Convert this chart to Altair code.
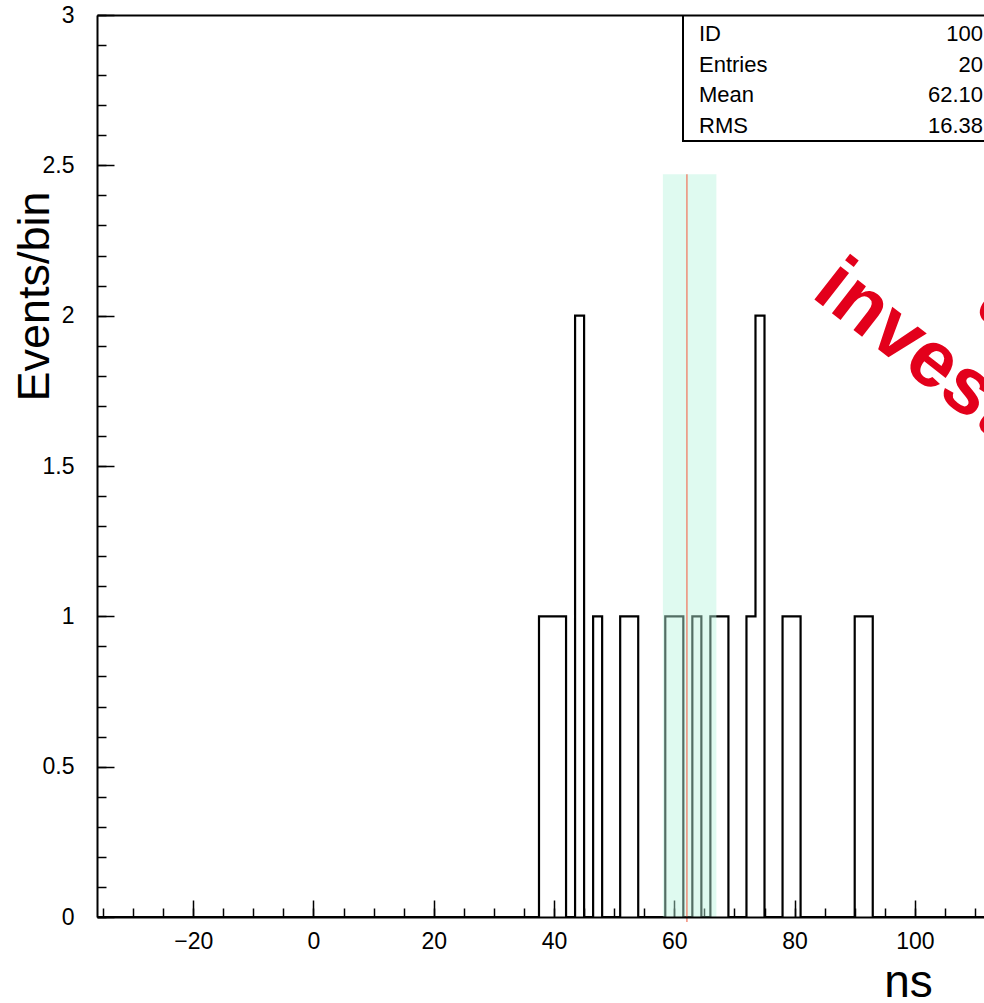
import altair as alt
import pandas as pd
import numpy as np

# ---- histogram ID 100 : fixed bins of 1.5 ns starting at -36 ns ----
hist_low = -36.0
bin_width = 1.5
n_bins = 100

# non-empty bins: lower edge (ns) and content (events)
filled_lo = [37.5, 39.0, 40.5, 43.5, 46.5, 51.0, 52.5, 58.5, 60.0, 63.0,
             66.0, 67.5, 72.0, 73.5, 78.0, 79.5, 90.0, 91.5]
filled_n = [1, 1, 1, 2, 1, 1, 1, 1, 1, 1, 1, 1, 1, 2, 1, 1, 1, 1]

# statistics box
stat_names = ["ID", "Entries", "Mean", "RMS"]
stat_values = ["100", "20", "62.10", "16.38"]

# mean marker and shaded window
mean_ns = [62.10]
band_lo = [58.1]
band_hi = [67.0]
band_top = [2.47]

# axes
x_domain = [-36, 111.5]
y_domain = [0, 3]
x_major = [-20, 0, 20, 40, 60, 80, 100]
x_minor = list(range(-35, 115, 5))
y_major = [0, 0.5, 1, 1.5, 2, 2.5, 3]
y_minor = [round(0.1 * i, 1) for i in range(31)]

watermark = ["under", "investigation"]

# ---- build tables ----
edges = hist_low + bin_width * np.arange(n_bins + 1)
counts = np.zeros(n_bins)
for lo, n in zip(filled_lo, filled_n):
    counts[int(round((lo - hist_low) / bin_width))] = n
step_df = pd.DataFrame({"x": edges, "y": np.append(counts, 0)})
band_df = pd.DataFrame({"lo": band_lo, "hi": band_hi, "top": band_top, "b": [0]})
mean_df = pd.DataFrame({"m": mean_ns, "top": band_top})
stats_df = pd.DataFrame({"name": stat_names, "val": stat_values,
                         "py": [26 + 30.5 * i for i in range(len(stat_names))]})
wm_df = pd.DataFrame({"t": watermark, "px": [874, 713], "py": [295, 281]})

W, H = 887, 902
FONT = "Liberation Sans, Arial, Helvetica, sans-serif"
xs = alt.Scale(domain=x_domain, nice=False, zero=False)
ys = alt.Scale(domain=y_domain, nice=False, zero=False)

# layer A: histogram outline, with labelled axes + domains
hist = alt.Chart(step_df).mark_line(
    interpolate="step-after", color="black", strokeWidth=2.2, clip=True
).encode(
    x=alt.X("x:Q", scale=xs, axis=alt.Axis(
        orient="bottom", values=x_major, ticks=False, grid=False,
        labelPadding=13, labelFont=FONT, labelFontSize=23, labelColor="black",
        domainColor="black", domainWidth=2, zindex=1,
        title="ns", titleFont=FONT, titleFontSize=46, titleFontWeight="normal",
        titleColor="black", titleX=811, titleY=79, titleAlign="center",
        titleBaseline="alphabetic")),
    y=alt.Y("y:Q", scale=ys, axis=alt.Axis(
        orient="left", values=y_major, format="~g", ticks=False, grid=False,
        labelPadding=23, labelFont=FONT, labelFontSize=23, labelColor="black",
        domainColor="black", domainWidth=2, zindex=1,
        title="Events/bin", titleFont=FONT, titleFontSize=45,
        titleFontWeight="normal", titleColor="black", titleX=-49, titleY=281,
        titleAlign="center", titleBaseline="alphabetic", titleAngle=-90)),
)

# layer B: shaded window, carries inward major ticks
band = alt.Chart(band_df).mark_rect(color="#b8f4de", opacity=0.45).encode(
    x=alt.X("lo:Q", scale=xs, axis=alt.Axis(
        orient="top", offset=-H, values=x_major, tickSize=17, tickWidth=1.5,
        tickColor="black", labels=False, domain=False, grid=False, title=None)),
    x2="hi:Q",
    y=alt.Y("b:Q", scale=ys, axis=alt.Axis(
        orient="right", offset=-W, values=y_major, tickSize=17, tickWidth=1.5,
        tickColor="black", labels=False, domain=False, grid=False, title=None)),
    y2="top:Q",
)

# layer C: mean line, carries inward minor ticks
mean_rule = alt.Chart(mean_df).mark_rule(color="#f07058", strokeWidth=1.2).encode(
    x=alt.X("m:Q", scale=xs, axis=alt.Axis(
        orient="top", offset=-H, values=x_minor, tickSize=9, tickWidth=1.5,
        tickColor="black", labels=False, domain=False, grid=False, title=None)),
    y=alt.Y("top:Q", scale=ys, axis=alt.Axis(
        orient="right", offset=-W, values=y_minor, tickSize=9, tickWidth=1.5,
        tickColor="black", labels=False, domain=False, grid=False, title=None)),
    y2=alt.value(H + 5),
)

# layer D: invisible, carries the top frame line
frame = alt.Chart(step_df).mark_point(opacity=0).encode(
    x=alt.X("x:Q", scale=xs, axis=alt.Axis(
        orient="top", ticks=False, labels=False, domainColor="black",
        domainWidth=2, grid=False, title=None, zindex=1)),
    y=alt.Y("y:Q", scale=ys, axis=None),
)

# statistics box
box = alt.Chart(stats_df.head(1)).mark_rect(
    fill="white", stroke="black", strokeWidth=2, clip=True
).encode(x=alt.value(586), x2=alt.value(W + 30), y=alt.value(0), y2=alt.value(126))

stat_lbl = alt.Chart(stats_df).mark_text(
    align="left", baseline="alphabetic", font=FONT, fontSize=22, color="black"
).encode(x=alt.value(602), y=alt.Y("py:Q", scale=None), text="name:N")

stat_val = alt.Chart(stats_df).mark_text(
    align="right", baseline="alphabetic", font=FONT, fontSize=22, color="black",
    clip=True
).encode(x=alt.value(886), y=alt.Y("py:Q", scale=None), text="val:N")

wm = alt.Chart(wm_df).mark_text(
    align="left", baseline="alphabetic", font=FONT, fontSize=80,
    fontWeight="bold", color="#e3001b", angle=38, clip=True
).encode(x=alt.X("px:Q", scale=None), y=alt.Y("py:Q", scale=None), text="t:N")

chart = alt.layer(
    hist, band, mean_rule, frame, box, stat_lbl, stat_val, wm
).resolve_axis(x="independent", y="independent").properties(
    width=W, height=H,
    padding={"left": 97, "top": 15, "right": 0, "bottom": 86},
    autosize=alt.AutoSizeParams(type="none"),
    background="white",
).configure_view(stroke=None)

chart.save("out.html", embed_options={"renderer": "svg", "actions": False})
